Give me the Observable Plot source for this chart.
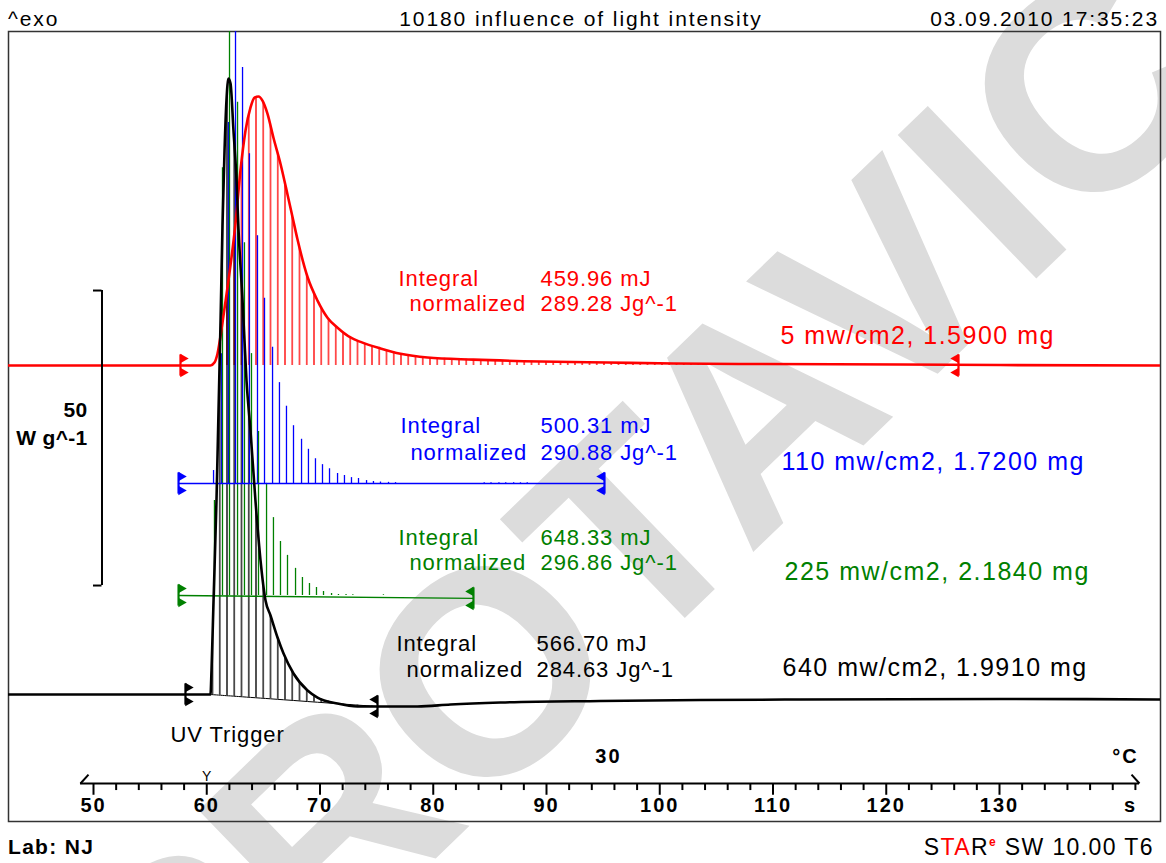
<!DOCTYPE html>
<html>
<head>
<meta charset="utf-8">
<script src="https://cdn.jsdelivr.net/npm/d3@7"></script>
<script src="https://cdn.jsdelivr.net/npm/@observablehq/plot@0.6"></script>
<style>
  body { margin: 0; background: #fff; }
  #page { position: relative; width: 1166px; height: 863px; overflow: hidden; font-family: "Liberation Sans", Arial, sans-serif; color: #000; }
  #wm { position: absolute; left: 0; top: 0; }
  #chart { position: absolute; left: 0; top: 30px; }
  .hdr { position: absolute; top: 7px; font-size: 21px; line-height: 24px; letter-spacing: 1.9px; white-space: nowrap; }
  .ftr { position: absolute; top: 835px; line-height: 24px; white-space: nowrap; }
</style>
</head>
<body>
<div id="page">
  <svg id="wm" width="1166" height="863">
    <text x="635" y="521" dy="0.36em" text-anchor="middle" font-family="Liberation Sans, Arial, sans-serif" font-weight="bold" font-size="290" fill="#dcdcdc" transform="rotate(-44 635 521)">PROTAVIC</text>
  </svg>
  <div class="hdr" style="left:8px">^exo</div>
  <div class="hdr" style="left:0;width:1162px;text-align:center">10180 influence of light intensity</div>
  <div class="hdr" style="right:7px">03.09.2010 17:35:23</div>
  <div id="chart"></div>
  <div class="ftr" style="left:8px;font-size:21px;font-weight:bold;letter-spacing:1.3px">Lab: NJ</div>
  <div class="ftr" style="right:12px;font-size:23px;letter-spacing:1.4px">S<span style="color:#ff0000">TA</span>R<span style="color:#ff0000;font-weight:bold;font-size:12px;position:relative;top:-9px">e</span> SW 10.00 T6</div>
</div>
<script>
// ---- data: time (s), heat flow above own baseline (W/g) ----
const red = [[42.49,0],[55.03,0],[60.33,0],[60.68,0.5],[60.95,2.0],[61.39,7.3],[61.83,13.2],[62.54,24.1],[62.98,33.1],[63.42,39.8],[63.86,43.7],[64.22,45.4],[64.57,45.6],[64.92,44.9],[65.36,42.7],[65.89,38.6],[66.51,34.2],[67.13,29.0],[67.66,24.4],[68.01,21.4],[68.90,15.0],[69.78,11.0],[70.66,8.1],[71.55,6.4],[72.69,4.75],[73.58,4.0],[75.34,2.9],[77.11,2.0],[79.49,1.36],[83.55,1.0],[89.47,0.68],[95.39,0.5],[101.21,0.34],[108.90,0.25],[121.26,0.17],[130.09,0.08],[144.22,0]];
const black = [[42.49,0],[55.03,0],[60.33,0],[60.42,4.07],[60.60,15.93],[60.86,32.88],[61.04,48.14],[61.22,63.39],[61.39,79.49],[61.57,92.2],[61.74,100.68],[61.92,104.41],[62.10,103.56],[62.36,95.59],[62.63,87.12],[62.80,78.98],[63.16,66.78],[63.51,53.22],[63.86,44.75],[64.30,32.88],[64.75,22.71],[65.19,15.93],[65.63,13.39],[66.25,9.66],[66.78,6.95],[67.66,3.56],[68.90,0.68],[69.78,-0.51],[71.55,-1.53],[73.31,-2.03],[75.08,-2.03],[78.61,-2.03],[81.52,-1.69],[85.94,-1.36],[94.77,-1.10],[103.6,-0.93],[112.4,-0.85],[130.1,-0.76],[144.22,-0.85]];
// integration baseline of the black peak (read at the black points inside the limits)
const blackBase = [0,-0.01,-0.04,-0.07,-0.10,-0.12,-0.15,-0.17,-0.20,-0.22,-0.24,-0.28,-0.32,-0.34,-0.39,-0.44,-0.49,-0.55,-0.61,-0.67,-0.73,-0.82,-0.89,-1.01,-1.19,-1.31,-1.55,-1.80,-2.03];
// blue and green are shown only as their hatch lines
const blue = [[60.60,2.2],[61.30,22],[61.92,61.2],[62.54,90],[63.16,70.5],[63.77,55.9],[64.48,42.0],[65.10,31.4],[65.81,23.1],[66.42,17.1],[67.04,13.1],[67.66,9.8],[68.37,7.5],[68.98,5.8],[69.60,4.2],[70.22,3.2],[70.84,2.5],[71.55,1.7],[72.16,1.36],[72.78,1.0],[73.40,0.85],[74.11,0.5],[74.72,0.34],[75.34,0.25],[76.05,0.2],[76.67,0.15],[84.5,0.12],[85.1,0.12],[85.8,0.12],[86.4,0.12],[87.1,0.12],[87.7,0.12],[88.3,0.12]];
const green = [[60.68,16.1],[61.39,72.5],[62.01,105],[62.72,83.6],[63.33,59.8],[63.95,41.0],[64.57,27.8],[65.28,19.0],[65.89,13.2],[66.51,9.15],[67.13,6.8],[67.84,4.6],[68.45,3.05],[69.07,2.03],[69.69,1.36],[70.31,0.68],[71.02,0.34],[71.63,0.17],[72.3,0.15],[72.9,0.12],[75.6,0.12]];
// integration limits (s) and baseline level at each limit (W/g)
const redLimits = [[57.68,0],[126.38,0]];
const blueLimits = [[57.51,0],[95.12,0]];
const greenLimits = [[57.51,0],[83.55,-0.5]];
const blackLimits = [[58.12,0],[75.08,-2.03]];
const majorTicks = [50,60,70,80,90,100,110,120,130];
const minorTicks = [52,54,56,58,62,64,66,68,72,74,76,78,82,84,86,88,92,94,96,98,102,104,106,108,112,114,116,118,122,124,126,128,132,134,136,138,140,142];
const series = ["red","blue","green","black"];
const integralTexts = [["459.96 mJ","289.28 Jg^-1"],["500.31 mJ","290.88 Jg^-1"],["648.33 mJ","296.86 Jg^-1"],["566.70 mJ","284.63 Jg^-1"]];
const sampleLabels = ["5 mw/cm2, 1.5900 mg","110 mw/cm2, 1.7200 mg","225 mw/cm2, 2.1840 mg","640 mw/cm2, 1.9910 mg"];

// ---- layout / style ----
const COL = {red:"#ff0000", blue:"#0000ff", green:"#008000", black:"#000000"};
const OFF = {red:55.76, blue:35.76, green:16.78, black:0};
const AX = -15.08; // axis line level
const toObj = (arr, s) => arr.map(([t, v]) => ({t, v, s}));
const redD = toObj(red, "red");
const blackD = toObj(black, "black");
const redHatch = redD.filter(d => d.t >= 60.33 && d.t <= 126.38);
const blackHatch = blackD.filter(d => d.t >= 60.33 && d.t <= 75.08).map((d, i) => ({...d, b: blackBase[i]}));
const blueD = toObj(blue, "blue");
const greenD = toObj(green, "green");
const limits = [
  ...redLimits.map(([t,v],i)=>({t,v,s:"red",side:i?"R":"L"})),
  ...blueLimits.map(([t,v],i)=>({t,v,s:"blue",side:i?"R":"L"})),
  ...greenLimits.map(([t,v],i)=>({t,v,s:"green",side:i?"R":"L"})),
  ...blackLimits.map(([t,v],i)=>({t,v,s:"black",side:i?"R":"L"}))
];
const textRows = {red:[76.93,77.90,70.51,66.27,110.66,60.68], blue:[77.11,77.99,45.59,41.02,110.75,39.49], green:[76.93,77.90,26.61,22.37,111.02,20.68], black:[76.75,77.64,8.64,4.24,110.84,4.41]};
const valX = {red:89.47, blue:89.47, green:89.47, black:89.12};
const annot = series.map((s, i) => ({s, lbl: integralTexts[i], name: sampleLabels[i], r: textRows[s]}));

const flag = (side, dy) => Plot.dot(limits.filter(d => d.side === side), {
  x: "t", y: d => OFF[d.s] + d.v, symbol: "triangle", r: 3.6,
  rotate: side === "L" ? 90 : -90, dx: side === "L" ? 2.6 : -2.6, dy,
  fill: d => COL[d.s], stroke: "none"
});

const chart = Plot.plot({
  width: 1166, height: 792,
  marginLeft: 8, marginRight: 6, marginTop: 1, marginBottom: 1,
  style: {background: "transparent", overflow: "visible", fontFamily: "'Liberation Sans', Arial, sans-serif"},
  x: {domain: [50, 130], range: [93, 999], axis: null},
  y: {domain: [0, 100], range: [664, 74], axis: null},
  color: {type: "identity"},
  marks: [
    Plot.frame({stroke: "#333", strokeWidth: 1.5}),
    // hatching
    Plot.areaY(redHatch, {x: "t", y1: OFF.red, y2: d => OFF.red + d.v, fill: "url(#hatchRed)", clip: true}),
    Plot.areaY(blackHatch, {x: "t", y1: d => d.b, y2: "v", fill: "url(#hatchBlack)", clip: true}),
    Plot.ruleX(blueD, {x: "t", y1: OFF.blue, y2: d => OFF.blue + d.v, stroke: COL.blue, strokeWidth: 1.3, clip: true}),
    Plot.ruleX(greenD, {x: "t", y1: OFF.green, y2: d => OFF.green + d.v, stroke: COL.green, strokeWidth: 1.3, clip: true}),
    // integration baselines
    Plot.line(blueLimits, {x: d => d[0], y: d => OFF.blue + d[1], stroke: COL.blue, strokeWidth: 1.3}),
    Plot.line(greenLimits, {x: d => d[0], y: d => OFF.green + d[1], stroke: COL.green, strokeWidth: 1.3}),
    Plot.line(blackHatch, {x: "t", y: "b", stroke: "#000", strokeWidth: 1}),
    // curves
    Plot.line(redD, {x: "t", y: d => OFF.red + d.v, stroke: COL.red, strokeWidth: 2.6, curve: "monotone-x", clip: true}),
    Plot.line(blackD, {x: "t", y: "v", stroke: "#000", strokeWidth: 2.6, curve: "monotone-x", clip: true}),
    // limit markers
    Plot.ruleX(limits, {x: "t", y1: d => OFF[d.s] + d.v - 1.8, y2: d => OFF[d.s] + d.v + 1.8, stroke: d => COL[d.s], strokeWidth: 2.2}),
    flag("L", -7), flag("L", 7), flag("R", -7), flag("R", 7),
    // integral texts
    Plot.text(annot, {x: d => d.r[0], y: d => d.r[2], text: () => "Integral", fill: d => COL[d.s], textAnchor: "start", fontSize: 22}),
    Plot.text(annot, {x: d => valX[d.s], y: d => d.r[2], text: d => d.lbl[0], fill: d => COL[d.s], textAnchor: "start", fontSize: 22}),
    Plot.text(annot, {x: d => d.r[1], y: d => d.r[3], text: () => "normalized", fill: d => COL[d.s], textAnchor: "start", fontSize: 22}),
    Plot.text(annot, {x: d => valX[d.s], y: d => d.r[3], text: d => d.lbl[1], fill: d => COL[d.s], textAnchor: "start", fontSize: 22}),
    Plot.text(annot, {x: d => d.r[4], y: d => d.r[5], text: "name", fill: d => COL[d.s], textAnchor: "start", fontSize: 25}),
    Plot.text(["UV Trigger"], {x: 56.80, y: -6.78, text: d => d, textAnchor: "start", fontSize: 22, fill: "#000"}),
    // scale bar (50 W/g)
    Plot.ruleX([50.75], {y1: 18.47, y2: 68.47, stroke: "#000", strokeWidth: 2}),
    Plot.ruleY([18.47, 68.47], {x1: 50.0, x2: 50.75, stroke: "#000", strokeWidth: 2}),
    Plot.text(["50"], {x: 49.47, y: 48.14, text: d => d, textAnchor: "end", fontSize: 21, fontWeight: "bold"}),
    Plot.text(["W g^-1"], {x: 49.47, y: 43.39, text: d => d, textAnchor: "end", fontSize: 21, fontWeight: "bold"}),
    // x axis
    Plot.ruleY([AX], {x1: 48.85, x2: 142.36, stroke: "#000", strokeWidth: 2}),
    Plot.ruleX(majorTicks, {x: d => d, y1: AX, y2: AX - 2.0, stroke: "#000", strokeWidth: 2}),
    Plot.ruleX(minorTicks, {x: d => d, y1: AX, y2: AX - 1.2, stroke: "#000", strokeWidth: 2}),
    Plot.link([0], {x1: 48.85, y1: AX, x2: 49.56, y2: AX + 1.5, stroke: "#000", strokeWidth: 2}),
    Plot.link([0], {x1: 142.36, y1: AX, x2: 141.66, y2: AX + 1.5, stroke: "#000", strokeWidth: 2}),
    Plot.text(["Y"], {x: 60, y: AX, dy: -7, text: d => d, fontSize: 14, fill: "#000"}),
    Plot.text(majorTicks, {x: d => d, y: AX, dy: 22, text: d => String(d), fontSize: 20, fontWeight: "bold"}),
    Plot.text(["s"], {x: 141.57, y: AX, dy: 22, text: d => d, fontSize: 20, fontWeight: "bold"}),
    Plot.text(["30"], {x: 95.47, y: AX, dy: -27, text: d => d, fontSize: 20, fontWeight: "bold"}),
    Plot.text(["°C"], {x: 141.13, y: AX, dy: -27, text: d => d, fontSize: 20, fontWeight: "bold"})
  ]
});

// hatch patterns
const defs = document.createElementNS("http://www.w3.org/2000/svg", "defs");
defs.innerHTML =
  '<pattern id="hatchRed" patternUnits="userSpaceOnUse" width="7.25" height="10" x="5.875" y="0">' +
  '<line x1="3.625" y1="0" x2="3.625" y2="10" stroke="#ff0000" stroke-width="1.3"/></pattern>' +
  '<pattern id="hatchBlack" patternUnits="userSpaceOnUse" width="7.25" height="10" x="5.875" y="0">' +
  '<line x1="3.625" y1="0" x2="3.625" y2="10" stroke="#000" stroke-width="1.3"/></pattern>';
chart.insertBefore(defs, chart.firstChild);
// letter spacing per text size
chart.querySelectorAll('g[font-size="22"]').forEach(g => g.setAttribute("letter-spacing", "0.9"));
chart.querySelectorAll('g[font-size="25"]').forEach(g => g.setAttribute("letter-spacing", "1.5"));
chart.querySelectorAll('g[font-size="20"]').forEach(g => g.setAttribute("letter-spacing", "2"));
chart.querySelectorAll('g[font-size="21"]').forEach(g => g.setAttribute("letter-spacing", "0.3"));
document.getElementById("chart").appendChild(chart);
</script>
</body>
</html>
